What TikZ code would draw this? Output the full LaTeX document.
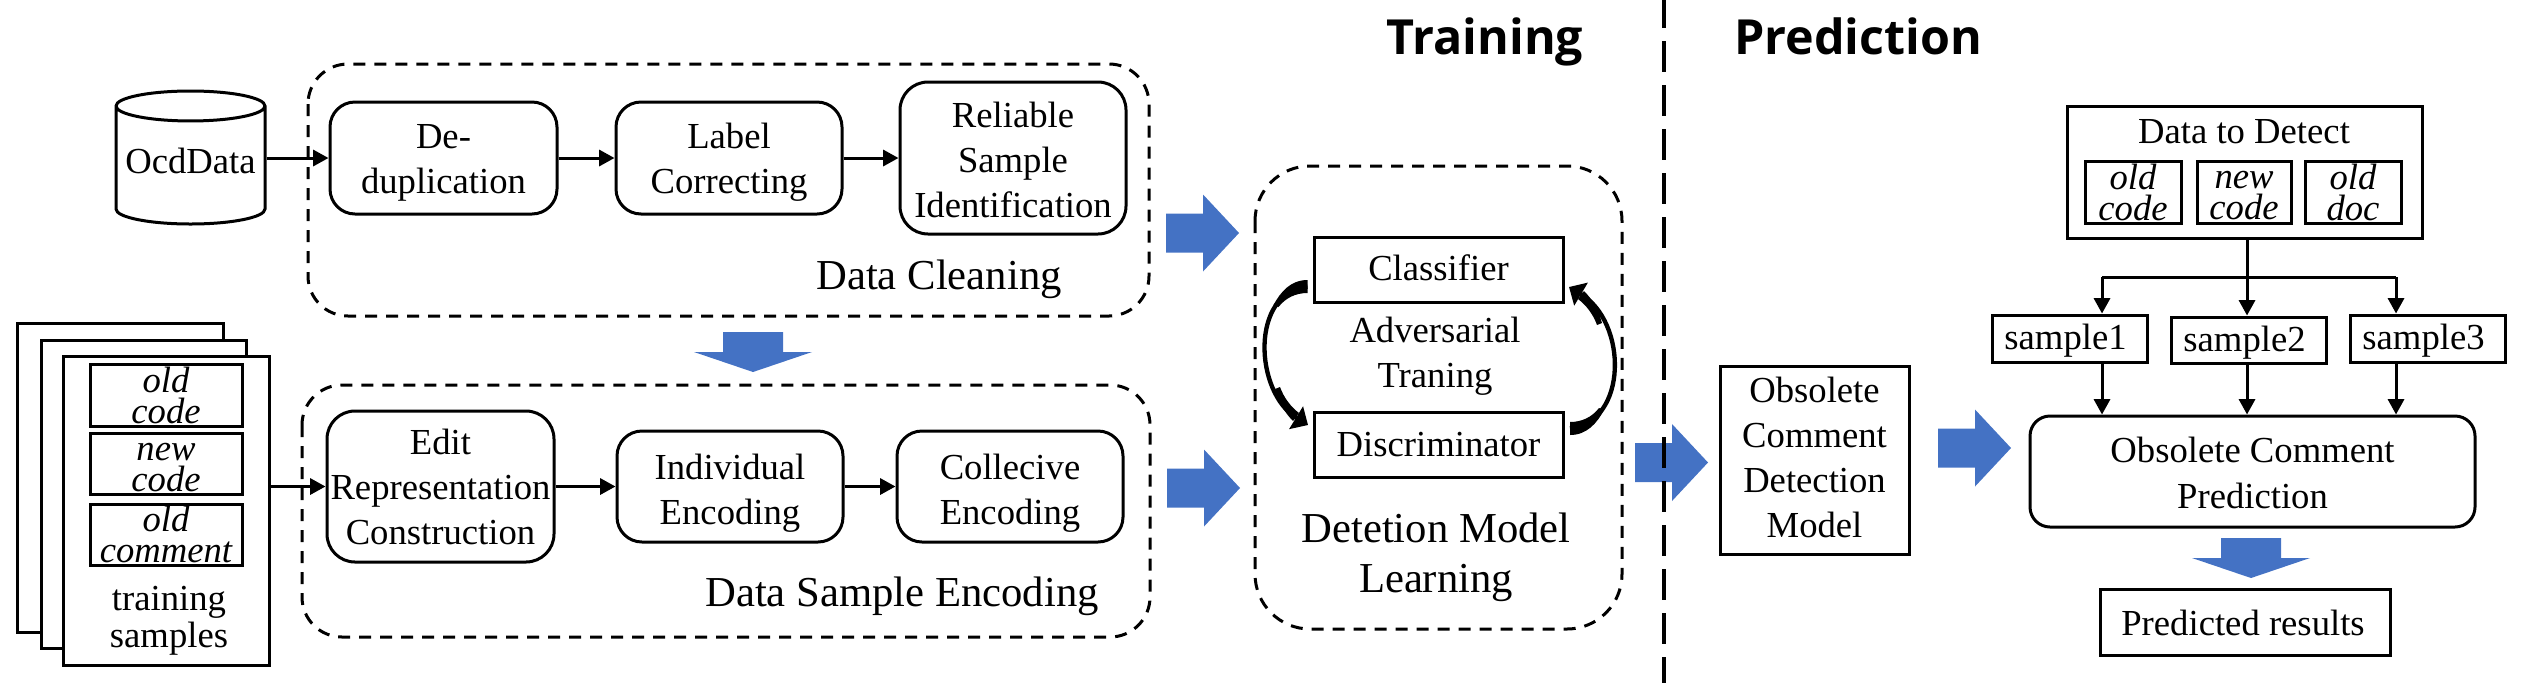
\documentclass[tikz,border=0pt]{standalone}
\usepackage{fontspec}
\setmainfont{Liberation Serif}
\newfontfamily\titlefont{Open Sans}
\usetikzlibrary{arrows.meta,shapes.geometric}
\definecolor{arrowblue}{HTML}{4472C4}
\tikzset{
  sz/.style 2 args={minimum width=#1*0.75pt, minimum height=#2*0.75pt},
  plain/.style={inner sep=0pt, align=center, font=\fontsize{27.5}{33.75}\selectfont},
  sharp/.style={plain, draw, line width=2.25pt, rectangle},
  soft/.style={plain, draw, line width=2.25pt, rectangle, rounded corners=#1*0.75pt},
  group/.style={draw, line width=2.25pt, dash pattern=on 9pt off 6.75pt, rounded corners=#1*0.75pt},
  small/.style={sharp, font=\fontsize{27.5}{23.25}\selectfont\itshape},
  big/.style={plain, font=\fontsize{32}{37.5}\selectfont},
  headline/.style={inner sep=0pt, anchor=base, font=\fontsize{36.3}{40}\selectfont\titlefont\bfseries},
  arr/.style={line width=2.25pt, -{Triangle[length=11.5pt,width=12pt]}},
  swing/.style={line width=3.25pt, -{Triangle[length=10.5pt,width=19.5pt]}},
  lowtext/.style={execute at begin node={\rule{0pt}{#1pt}}},
  hightext/.style={execute at end node={\rule[-#1pt]{0pt}{0pt}}},
}
\begin{document}
\begin{tikzpicture}[x=0.75pt,y=-0.75pt]
\useasboundingbox (0,0) rectangle (2522,683);

\foreach \x/\y in {1166/233, 1167/488, 1635/462.5, 1938/448}
  \fill[arrowblue] (\x,\y-19.5) -- ++(37,0) -- ++(0,-19) -- (\x+73,\y) -- (\x+37,\y+38.5) -- ++(0,-19) -- (\x,\y+19.5) -- cycle;
\foreach \x/\y in {753/332, 2251/538}
  \fill[arrowblue] (\x-30,\y) -- (\x+30,\y) -- (\x+30,\y+20) -- (\x+59,\y+20) -- (\x,\y+40) -- (\x-59,\y+20) -- (\x-30,\y+20) -- cycle;

\node (headline_train) [headline] at (1485,54) {Training};
\node (headline_pred) [headline] at (1858,54) {Prediction};
\draw[line width=2.5pt, dash pattern=on 23.25pt off 9.75pt, dash phase=2.25pt] (1664,0) -- (1664,683);

\draw[group=40] (308,64) rectangle (1149,316);
\draw[group=40] (302,385) rectangle (1150,637);
\draw[group=55] (1255,166) rectangle (1622,629);

\node (ocd_data) [plain, draw, line width=2.25pt, cylinder, shape border rotate=90, aspect=0.23, sz={149}{133}, anchor=shape center, hightext=8] at (190.5,157.5) {OcdData};
\node (dedup) [soft=25, sz={227}{112}, lowtext=58.5] at (443.5,158) {De-\\duplication};
\node (label_fix) [soft=25, sz={226}{112}, lowtext=58.5] at (729,158) {Label\\Correcting};
\node (reliable) [soft=28, sz={226}{152}, lowtext=89] at (1013,158) {Reliable\\Sample\\Identification};
\node (title_clean) [big] at (939,279) {Data Cleaning};

\node (sheet_1) [sharp, fill=white, sz={206}{309}] at (120,477.5) {};
\node (sheet_2) [sharp, fill=white, sz={205}{308}] at (143.5,494) {};
\node (sheet_3) [sharp, fill=white, sz={206}{309}] at (166,510.5) {};
\node (item_old) [small, sz={152}{62}] at (166,395) {old\\code};
\node (item_new) [small, sz={152}{61}, lowtext=42] at (166,463.5) {new\\code};
\node (item_comment) [small, sz={152}{61}] at (166,534.5) {old\\comment};
\node (title_samples) [plain, font=\fontsize{27.5}{27.75}\selectfont] at (169,621) {training\\samples};

\node (edit) [soft=28, sz={227}{151}] at (440.5,486.5) {Edit\\Representation\\Construction};
\node (individual) [soft=25, sz={226}{111}, lowtext=63] at (730,486.5) {Individual\\Encoding};
\node (collective) [soft=25, sz={226}{111}, lowtext=63] at (1010,486.5) {Collecive\\Encoding};
\node (title_encode) [big] at (902,596) {Data Sample Encoding};

\node (classifier) [sharp, sz={249}{65}, hightext=3] at (1438.5,269.5) {Classifier};
\node (discriminator) [sharp, sz={249}{65}] at (1438.5,444.5) {Discriminator};
\node (title_adv) [plain] at (1435,356.5) {Adversarial\\Traning};
\node (title_learn) [big] at (1436,557) {Detetion Model\\Learning};

\node (model) [sharp, sz={189}{188}, hightext=4] at (1814.5,460) {Obsolete\\Comment\\Detection\\Model};

\node (detect) [sharp, sz={355}{132}] at (2245,172) {};
\node (title_detect) [plain] at (2244,132) {Data to Detect};
\node (detect_old) [small, sz={96}{62}] at (2133,192) {old\\code};
\node (detect_new) [small, sz={94}{62}, lowtext=42] at (2244,192) {new\\code};
\node (detect_doc) [small, sz={96}{62}] at (2353,192) {old\\doc};

\node (sample1) [sharp, sz={155}{47}, lowtext=23] at (2069.5,338.5) {sample1\hspace*{6pt}};
\node (sample2) [sharp, sz={155}{46}, lowtext=23] at (2248.5,340) {sample2\hspace*{6pt}};
\node (sample3) [sharp, sz={155}{47}, lowtext=23] at (2427.5,338.5) {sample3\hspace*{6pt}};
\node (predict) [soft=20, sz={445}{111}, lowtext=55] at (2252.5,471.5) {Obsolete Comment\\Prediction};
\node (results) [sharp, sz={290}{66}, lowtext=21] at (2245,622) {Predicted results\hspace*{3pt}};

\coordinate (join_mid) at (2247,277);
\coordinate (join_left) at (2102,277);
\coordinate (join_right) at (2396,277);

\draw[arr] (dedup.west -| ocd_data.east) -- (dedup);
\draw[arr] (dedup) -- (label_fix);
\draw[arr] (label_fix) -- (reliable);
\draw[arr] (edit.west -| sheet_3.east) -- (edit);
\draw[arr] (edit) -- (individual);
\draw[arr] (individual) -- (collective);

\draw[line width=2.25pt] (join_mid |- detect.south) -- (join_mid);
\draw[line width=2.25pt] (join_left) -- (join_right);
\draw[arr] (join_left) -- (join_left |- sample1.north);
\draw[arr] (join_mid) -- (join_mid |- sample2.north);
\draw[arr] (join_right) -- (join_right |- sample3.north);
\draw[arr] (join_left |- sample1.south) -- (join_left |- predict.north);
\draw[arr] (join_mid |- sample2.south) -- (join_mid |- predict.north);
\draw[arr] (join_right |- sample3.south) -- (join_right |- predict.north);

\coordinate (left_from) at (1307.5,286.5);
\coordinate (left_to) at (1308,425);
\coordinate (right_from) at (1570,428.5);
\coordinate (right_to) at (1569,287);
\draw[swing] (left_from) .. controls (1250,292) and (1254,392) .. (left_to);
\draw[swing] (right_from) .. controls (1628,422) and (1628,322) .. (right_to);
\foreach \p/\s in {left_from/1, right_from/-1}
  \fill[shift={(\p)}, xscale=\s, yscale=\s] (0,-6.5) .. controls (-17,-6.5) and (-27,5.5) .. (-34,18.5) -- (-29,20.5) .. controls (-22,11.5) and (-12,6.5) .. (0,6.5) -- cycle;
\foreach \p/\s in {left_to/1, right_to/-1}
  \fill[shift={(\p)}, xscale=\s, yscale=\s] (-33,-36) .. controls (-29,-22) and (-23,-12) .. (-15,-4) -- (-9,-12) .. controls (-17,-18) and (-24,-27) .. (-28,-38) -- cycle;
\end{tikzpicture}
\end{document}
